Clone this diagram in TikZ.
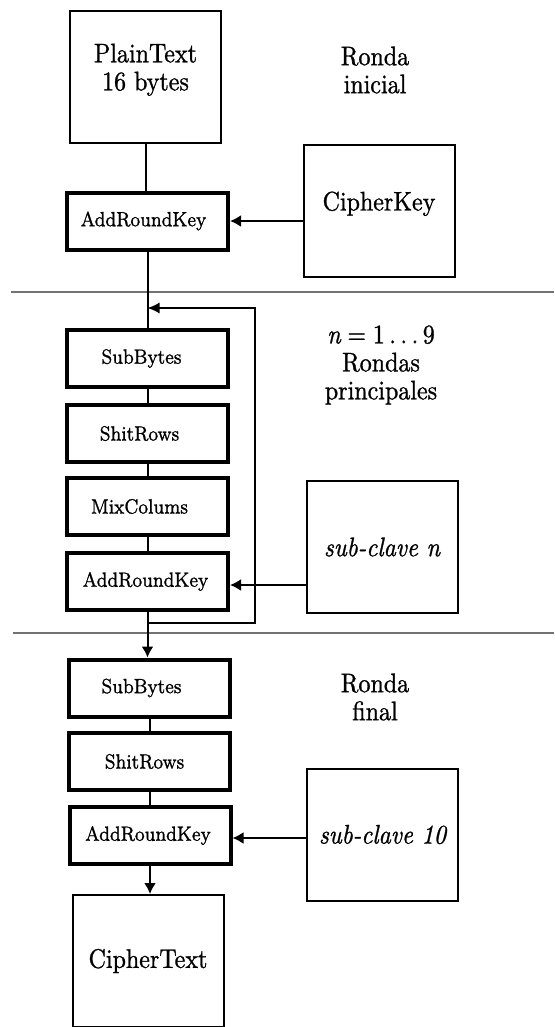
\documentclass[tikz,border=0pt]{standalone}
\usetikzlibrary{arrows.meta}
% Latin Modern at fixed design sizes, enlarged and slightly narrowed
\font\labelrm="[lmroman10-regular.otf]:extend=0.893;embolden=1.0" at 26.9pt
\font\labelit="[lmroman10-italic.otf]:extend=0.893;embolden=1.0" at 26.9pt
\font\stagerm="[lmroman8-regular.otf]:extend=0.885;embolden=1.0" at 20.6pt
\newcommand\biglabels{\fontsize{26.9}{28}\selectfont\labelrm}
\newcommand\roundvar{{\labelit n}}
\newcommand\roundrange{\roundvar\hspace{0.25em}=\hspace{0.25em}1\,.\,.\,.\,9}
\begin{document}
\begin{tikzpicture}[x=1pt,y=-1pt,
  stage/.style={draw,line width=4pt,minimum width=161pt,minimum height=57pt,
    inner sep=0pt,font=\stagerm},
  datablock/.style={draw,line width=2pt,minimum width=151pt,minimum height=132pt,
    inner sep=0pt,font=\biglabels,align=center},
  caption/.style={font=\biglabels,align=center,inner sep=0pt},
  flow/.style={line width=2pt},
  feed/.style={line width=2pt,-{Latex[length=11pt,width=12pt]}},
  loopline/.style={line width=1.5pt,-{Latex[length=12pt,width=11pt]}},
  divider/.style={line width=1.5pt,draw=black!55},
]
\useasboundingbox (0,0) rectangle (554,1027);
\clip (0,0) rectangle (554,1027);

% round separators
\coordinate (d1l) at (11,292);  \coordinate (d1r) at (554,292);
\coordinate (d2l) at (13,633);  \coordinate (d2r) at (554,633);
\draw[divider] (d1l) -- (d1r);
\draw[divider] (d2l) -- (d2r);

% initial round
\node[datablock,text depth=20pt] (plain) at (145.5,77) {PlainText\\16 bytes};
\node[stage] (ark1) at (147.5,221) {\hspace*{-8pt}AddRoundKey};
\node[datablock,text depth=20pt] (key) at (379,211) {CipherKey};
\node[caption] (r0) at (375,70) {Ronda\\inicial};

% main rounds
\node[stage] (sb2) at (147.5,358.5) {\hspace*{-12pt}SubBytes};
\node[stage] (sr2) at (147.5,433.5) {\hspace*{-16pt}ShitRows};
\node[stage] (mc2) at (147.5,506.5) {\hspace*{-16pt}MixColums};
\node[stage] (ark2) at (147.5,581.5) {\hspace*{-4pt}AddRoundKey};
\node[datablock] (kn) at (382,547) {\labelit sub-clave \roundvar};
\node[caption] (r1) at (381,365) {\roundrange\\Rondas\\principales};

% final round
\node[stage] (sb3) at (149.5,688) {\hspace*{-16pt}SubBytes};
\node[stage] (sr3) at (149.5,761.5) {\hspace*{-10pt}ShitRows};
\node[stage] (ark3) at (150,835.5) {\hspace*{-4pt}AddRoundKey};
\node[datablock] (k10) at (382.5,834.5) {\labelit sub-clave 10};
\node[datablock] (cipher) at (148,961) {CipherText};
\node[caption] (r2) at (375,697) {Ronda\\final};

% data path
\draw[flow] (plain.south) -- (plain.south |- ark1.north);
\draw[feed] (key.west |- ark1.east) -- (ark1.east);
\draw[flow] (ark1.south) -- (ark1.south |- sb2.north);
\draw[flow] (sb2) -- (sr2);
\draw[flow] (sr2) -- (mc2);
\draw[flow] (mc2) -- (ark2);
\draw[feed] (kn.west |- 0,585) -- (ark2.east |- 0,585);

% repeat loop over the main rounds
\coordinate (loopbot) at (255,623);
\coordinate (looptop) at (255,308);
\draw[loopline] (ark2.south |- loopbot) -- (loopbot) -- (looptop) -- (ark1.south |- looptop);

\draw[feed] (ark2.south) -- (ark2.south |- sb3.north);
\draw[flow] (sb3.south) -- (sb3.south |- sr3.north);
\draw[flow] (sr3.south) -- (sr3.south |- ark3.north);
\draw[feed] (k10.west |- 0,838) -- (ark3.east |- 0,838);
\draw[feed] (ark3.south) -- (ark3.south |- cipher.north);
\end{tikzpicture}
\end{document}
